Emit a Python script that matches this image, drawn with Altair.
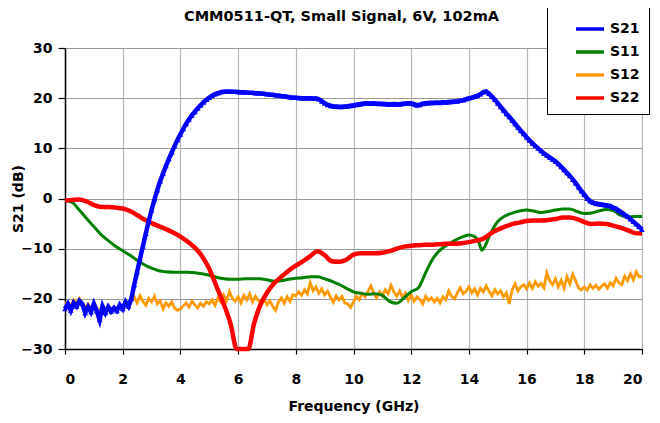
import altair as alt
import pandas as pd

# ---------------- data ----------------
S21_F = [round(i * 0.1, 1) for i in range(201)]
S21_V = [
    -22.0, -21.0, -22.3, -20.8, -21.5, -20.4, -21.0, -22.8, -21.6, -22.6,
    -21.0, -22.4, -24.2, -21.5, -22.8, -21.6, -22.5, -21.8, -22.4, -21.2,
    -22.0, -20.6, -21.5, -20.0, -17.2, -14.6, -12.0, -9.5, -7.0, -4.6,
    -2.3, -0.2, 1.7, 3.5, 5.0, 6.5, 7.9, 9.2, 10.5, 11.7,
    12.8, 13.9, 14.9, 15.8, 16.6, 17.3, 18.0, 18.6, 19.2, 19.7,
    20.1, 20.5, 20.8, 21.0, 21.2, 21.3, 21.35, 21.35, 21.3, 21.3,
    21.25, 21.2, 21.2, 21.15, 21.1, 21.1, 21.0, 21.0, 20.95, 20.9,
    20.8, 20.75, 20.7, 20.6, 20.55, 20.45, 20.4, 20.3, 20.2, 20.15,
    20.1, 20.05, 20.0, 20.0, 20.0, 20.0, 19.95, 20.0, 19.8, 19.4,
    19.0, 18.7, 18.5, 18.4, 18.35, 18.3, 18.3, 18.35, 18.4, 18.5,
    18.6, 18.7, 18.8, 18.9, 19.0, 19.0, 18.95, 19.0, 18.95, 18.9,
    18.9, 18.85, 18.8, 18.8, 18.85, 18.8, 18.8, 18.9, 18.95, 19.0,
    19.0, 18.8, 18.6, 18.7, 18.9, 19.0, 19.05, 19.1, 19.1, 19.15,
    19.1, 19.2, 19.2, 19.25, 19.3, 19.35, 19.4, 19.5, 19.6, 19.8,
    20.0, 20.1, 20.3, 20.5, 20.8, 21.2, 21.35, 20.9, 20.3, 19.7,
    19.0, 18.3, 17.6, 16.9, 16.3, 15.6, 14.9, 14.2, 13.5, 12.9,
    12.2, 11.6, 11.0, 10.5, 10.0, 9.5, 9.0, 8.6, 8.2, 7.8,
    7.4, 6.9, 6.3, 5.7, 5.1, 4.5, 3.8, 3.1, 2.3, 1.5,
    0.8, 0.0, -0.5, -0.8, -1.0, -1.1, -1.2, -1.3, -1.4, -1.5,
    -1.8, -2.0, -2.4, -2.8, -3.2, -3.6, -4.1, -4.6, -5.1, -5.6,
    -6.2,
]

S11_F = [0, 0.25, 0.5, 0.75, 1.0, 1.25, 1.5, 1.75, 2.0, 2.25, 2.5, 2.75, 3.0, 3.25, 3.5, 3.75,
         4.0, 4.25, 4.5, 4.75, 5.0, 5.25, 5.5, 5.75, 6.0, 6.25, 6.5, 6.75, 7.0, 7.25, 7.5, 7.75,
         8.0, 8.25, 8.5, 8.75, 9.0, 9.25, 9.5, 9.75, 10.0, 10.25, 10.5, 10.75, 11.0, 11.25, 11.5,
         11.75, 12.0, 12.25, 12.5, 12.75, 13.0, 13.25, 13.5, 13.75, 14.0, 14.2, 14.35, 14.45,
         14.55, 14.7, 15.0, 15.25, 15.5, 15.75, 16.0, 16.25, 16.5, 16.75, 17.0, 17.25, 17.5,
         17.75, 18.0, 18.25, 18.5, 18.75, 19.0, 19.25, 19.5, 19.75, 20.0]
S11_V = [-0.4, -0.8, -2.3, -4.0, -5.6, -7.2, -8.4, -9.5, -10.4, -11.3, -12.3, -13.2, -13.9, -14.4,
         -14.6, -14.7, -14.7, -14.7, -14.8, -15.0, -15.3, -15.7, -16.0, -16.1, -16.1, -16.0, -16.0,
         -16.0, -16.2, -16.5, -16.4, -16.1, -15.9, -15.8, -15.6, -15.6, -16.0, -16.5, -17.1, -17.9,
         -18.6, -18.9, -19.1, -19.0, -19.3, -20.5, -20.9, -19.8, -18.6, -17.8, -14.8, -12.0, -10.3,
         -9.2, -8.4, -7.7, -7.3, -7.6, -8.8, -10.3, -9.6, -7.6, -4.6, -3.5, -2.9, -2.5, -2.3, -2.5,
         -2.8, -2.6, -2.3, -2.1, -2.1, -2.6, -3.0, -2.9, -2.5, -2.2, -2.4, -3.3, -3.7, -3.6, -3.6]

S22_F = [0, 0.25, 0.5, 0.75, 1.0, 1.25, 1.5, 1.75, 2.0, 2.25, 2.5, 2.75, 3.0, 3.25, 3.5, 3.75,
         4.0, 4.25, 4.5, 4.75, 5.0, 5.25, 5.5, 5.75, 5.95, 6.35, 6.55, 6.75, 7.0, 7.25, 7.5, 7.75,
         8.0, 8.25, 8.5, 8.75, 9.0, 9.25, 9.5, 9.75, 10.0, 10.25, 10.5, 10.75, 11.0, 11.25, 11.5,
         11.75, 12.0, 12.25, 12.5, 12.75, 13.0, 13.25, 13.5, 13.75, 14.0, 14.25, 14.5, 14.75,
         15.0, 15.25, 15.5, 15.75, 16.0, 16.25, 16.5, 16.75, 17.0, 17.25, 17.5, 17.75, 18.0,
         18.25, 18.5, 18.75, 19.0, 19.25, 19.5, 19.75, 20.0]
S22_V = [-0.4, -0.3, -0.2, -0.6, -1.3, -1.7, -1.7, -1.8, -2.0, -2.5, -3.3, -4.2, -4.9, -5.5, -6.1,
         -6.8, -7.6, -8.6, -9.8, -11.5, -14.0, -17.5, -21.0, -25.2, -30.0, -30.0, -25.0, -21.5,
         -18.8, -16.9, -15.6, -14.4, -13.4, -12.5, -11.5, -10.5, -11.3, -12.5, -12.6, -12.2, -11.2,
         -10.9, -10.9, -10.9, -10.8, -10.5, -10.0, -9.6, -9.4, -9.3, -9.2, -9.2, -9.1, -9.0, -9.0,
         -8.9, -8.7, -8.4, -8.0, -7.0, -6.2, -5.6, -5.1, -4.8, -4.5, -4.4, -4.4, -4.3, -4.1, -3.8,
         -3.8, -4.1, -4.7, -5.1, -5.0, -5.1, -5.4, -5.8, -6.3, -6.9, -7.0]

S12_F = [round(i * 0.1, 1) for i in range(201)]
S12_V = [
    -21.0, -20.6, -21.4, -20.2, -20.8, -19.9, -20.9, -21.8, -21.0, -22.0,
    -20.9, -21.8, -22.6, -21.2, -22.8, -21.5, -22.0, -21.6, -22.3, -21.0,
    -21.6, -20.4, -21.0, -20.2, -19.6, -20.8, -19.4, -20.5, -21.3, -19.9,
    -20.6, -19.5, -21.0, -20.4, -22.0, -20.8, -21.5, -20.6, -21.9, -22.3,
    -22.0, -21.4, -20.8, -21.6, -20.5, -21.2, -21.8, -20.9, -21.5, -20.6,
    -21.0, -20.2, -21.3, -19.8, -20.6, -19.2, -20.4, -18.6, -19.9, -20.5,
    -19.6, -20.8, -19.3, -20.2, -19.0, -20.6, -19.5, -20.3, -20.8, -20.0,
    -21.2, -20.4, -21.5, -22.3, -20.6, -19.8, -20.9, -19.6, -20.5, -19.2,
    -19.4, -18.6, -19.3, -18.2, -19.0, -16.8, -18.4, -17.6, -18.9, -18.0,
    -19.2, -18.5, -19.6, -20.7, -19.4, -20.2, -19.5, -20.8, -21.0, -21.7,
    -20.6, -19.5, -20.2, -18.9, -19.6, -18.5, -17.4, -18.8, -19.8, -18.6,
    -19.4, -18.2, -19.0, -17.3, -18.6, -19.5, -18.4, -19.8, -18.9, -20.3,
    -19.2, -20.5, -19.6, -20.1, -21.0, -19.5, -20.3, -19.8, -20.6, -19.9,
    -20.8, -19.6, -20.2, -18.4, -19.5, -20.0, -18.8, -17.8, -19.0, -18.5,
    -17.6, -18.8, -18.0, -19.2, -17.9, -18.6, -17.4, -18.5, -19.4, -18.2,
    -19.0, -18.4, -19.6, -18.8, -21.0, -18.2, -17.0, -18.4, -17.6, -17.2,
    -18.0, -16.8, -17.9, -16.6, -17.5, -16.9, -17.8, -14.8, -16.4, -17.2,
    -16.0, -17.6, -16.3, -17.9, -15.6, -17.0, -15.1, -16.4, -17.8, -18.2,
    -17.6, -18.3, -17.2, -17.9, -17.3, -18.1, -17.5, -17.0, -17.9, -16.8,
    -17.4, -15.9, -16.8, -17.2, -15.5, -16.4, -15.0, -16.2, -14.6, -15.6,
    -15.6,
]

SERIES = ["S21", "S11", "S12", "S22"]
COLORS = ["#0000ff", "#008000", "#ff9900", "#ff0000"]
X_TICKS = [0, 2, 4, 6, 8, 10, 12, 14, 16, 18, 20]
Y_TICKS = [-30, -25, -20, -15, -10, -5, 0, 5, 10, 15, 20, 25, 30]
TITLE = "CMM0511-QT, Small Signal, 6V, 102mA"

# ---------------- tables ----------------
def frame(name, f, v):
    return pd.DataFrame({"f": f, "v": v, "series": name})

d21 = frame("S21", S21_F, S21_V)
d11 = frame("S11", S11_F, S11_V)
d12 = frame("S12", S12_F, S12_V)
d22 = frame("S22", S22_F, S22_V)

FONT = "DejaVu Sans"

x_enc = alt.X("f:Q", scale=alt.Scale(domain=[0, 20], nice=False),
              axis=alt.Axis(values=X_TICKS, title="Frequency (GHz)", tickSize=5,
                            labelPadding=18, titlePadding=13, gridColor="#b5b5b5",
                            gridWidth=1.2))
y_enc = alt.Y("v:Q", scale=alt.Scale(domain=[-30, 30], nice=False),
              axis=alt.Axis(values=Y_TICKS, title="S21 (dB)", tickSize=7,
                            labelPadding=6, titleX=-47, titleBaseline="middle",
                            gridColor="#9a9a9a"))
color_enc = alt.Color("series:N",
                      scale=alt.Scale(domain=SERIES, range=COLORS),
                      legend=alt.Legend(title=None, orient="none", legendX=482, legendY=-44,
                                        symbolType="stroke", symbolSize=784,
                                        symbolStrokeWidth=3.5, symbolOffset=18,
                                        labelFont=FONT, labelFontSize=14,
                                        labelFontWeight="bold", labelColor="black",
                                        rowPadding=-5, padding=9, strokeColor="black",
                                        fillColor="white", labelOffset=4))

def line(df, width, interp):
    return alt.Chart(df).mark_line(strokeWidth=width, interpolate=interp).encode(
        x=x_enc, y=y_enc, color=color_enc, order="f:Q")

l12 = line(d12, 2.8, "linear")
l11 = line(d11, 3.0, "monotone")
l22 = line(d22, 4.5, "monotone")
l21 = line(d21, 4.5, "linear")
p21 = alt.Chart(d21).mark_point(shape="triangle-up", filled=True, size=32, opacity=1).encode(
    x=alt.X("f:Q"), y=alt.Y("v:Q"), color=alt.value("#0000ff"))

chart = alt.layer(l12, l11, l22, l21, p21).properties(
    width=577, height=301,
    title=alt.TitleParams(TITLE, font=FONT, fontSize=14.5, fontWeight="bold",
                          color="black", anchor="middle", frame="group", dx=-12,
                          offset=0, dy=21),
    autosize=alt.AutoSizeParams(type="none"),
    padding={"left": 57, "top": 40, "right": 10, "bottom": 70},
).configure_axis(
    labelFont=FONT, labelFontSize=14, labelFontWeight="bold", labelColor="black",
    titleFont=FONT, titleFontSize=14, titleFontWeight="bold", titleColor="black",
    domainColor="black", domainWidth=1.5, tickColor="black", tickWidth=1.2,
).configure_view(strokeWidth=0)

chart.save("out.html", embed_options={"renderer": "svg", "actions": False})
